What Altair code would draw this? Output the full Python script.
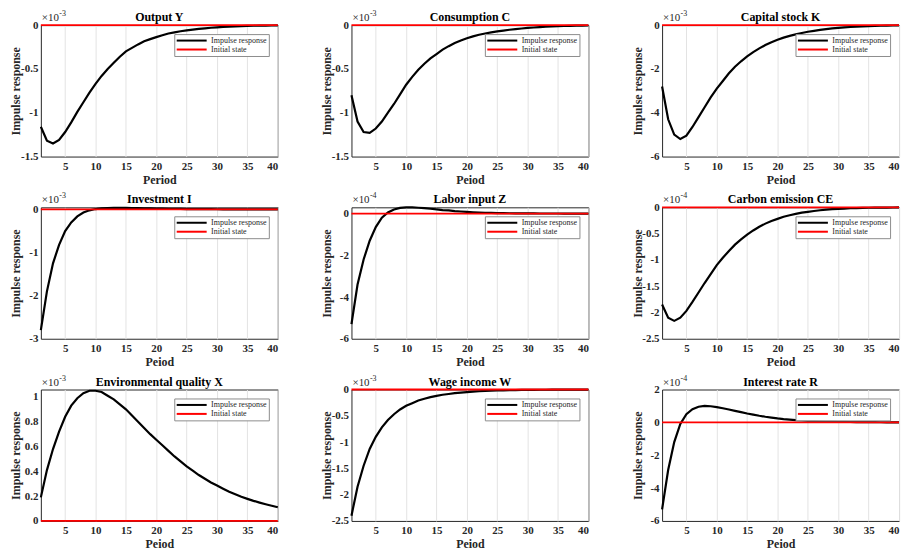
import altair as alt
import pandas as pd

periods = list(range(1, 41))

output_y = [-1.16, -1.32, -1.35, -1.31, -1.22, -1.11, -0.99, -0.88, -0.77, -0.67,
            -0.58, -0.50, -0.43, -0.36, -0.30, -0.26, -0.22, -0.185, -0.16, -0.137,
            -0.115, -0.096, -0.082, -0.07, -0.06, -0.051, -0.043, -0.036, -0.03, -0.025,
            -0.02, -0.017, -0.014, -0.011, -0.009, -0.007, -0.006, -0.005, -0.004, -0.003]
consumption_c = [-0.80, -1.10, -1.22, -1.23, -1.18, -1.10, -1.00, -0.90, -0.79, -0.68,
                 -0.59, -0.51, -0.44, -0.38, -0.33, -0.28, -0.24, -0.205, -0.175, -0.15,
                 -0.128, -0.11, -0.095, -0.083, -0.072, -0.062, -0.053, -0.045, -0.038, -0.032,
                 -0.027, -0.022, -0.018, -0.015, -0.012, -0.01, -0.008, -0.006, -0.005, -0.004]
capital_k = [-2.8, -4.3, -5.0, -5.2, -5.05, -4.65, -4.2, -3.75, -3.3, -2.9,
             -2.55, -2.2, -1.9, -1.65, -1.43, -1.23, -1.06, -0.91, -0.78, -0.67,
             -0.57, -0.49, -0.42, -0.36, -0.3, -0.26, -0.22, -0.18, -0.15, -0.125,
             -0.1, -0.085, -0.07, -0.055, -0.045, -0.035, -0.028, -0.022, -0.017, -0.013]
investment_i = [-2.8, -1.9, -1.25, -0.82, -0.5, -0.3, -0.16, -0.07, -0.02, 0.01,
                0.025, 0.033, 0.037, 0.038, 0.036, 0.033, 0.03, 0.027, 0.024, 0.021,
                0.018, 0.016, 0.014, 0.012, 0.01, 0.009, 0.008, 0.007, 0.006, 0.005,
                0.004, 0.004, 0.003, 0.003, 0.002, 0.002, 0.002, 0.001, 0.001, 0.001]
labor_z = [-5.3, -3.4, -2.2, -1.3, -0.65, -0.2, 0.05, 0.2, 0.27, 0.3,
           0.3, 0.28, 0.26, 0.23, 0.2, 0.17, 0.15, 0.12, 0.1, 0.08,
           0.065, 0.05, 0.04, 0.032, 0.025, 0.02, 0.016, 0.013, 0.01, 0.008,
           0.006, 0.005, 0.004, 0.003, 0.003, 0.002, 0.002, 0.001, 0.001, 0.001]
carbon_ce = [-1.85, -2.1, -2.16, -2.1, -1.97, -1.8, -1.62, -1.44, -1.27, -1.1,
             -0.96, -0.83, -0.71, -0.61, -0.52, -0.44, -0.37, -0.31, -0.26, -0.22,
             -0.18, -0.15, -0.125, -0.1, -0.085, -0.07, -0.055, -0.045, -0.036, -0.029,
             -0.023, -0.018, -0.014, -0.011, -0.008, -0.006, -0.005, -0.004, -0.003, -0.002]
env_x = [0.19, 0.41, 0.58, 0.72, 0.84, 0.93, 0.99, 1.03, 1.05, 1.05,
         1.04, 1.01, 0.98, 0.94, 0.9, 0.85, 0.8, 0.75, 0.7, 0.655,
         0.61, 0.565, 0.52, 0.48, 0.44, 0.405, 0.37, 0.34, 0.31, 0.285,
         0.26, 0.235, 0.215, 0.195, 0.178, 0.162, 0.148, 0.135, 0.122, 0.11]
wage_w = [-2.4, -1.85, -1.45, -1.13, -0.9, -0.72, -0.58, -0.47, -0.38, -0.31,
          -0.26, -0.21, -0.175, -0.145, -0.12, -0.1, -0.085, -0.07, -0.058, -0.048,
          -0.04, -0.033, -0.027, -0.022, -0.018, -0.015, -0.012, -0.01, -0.008, -0.007,
          -0.006, -0.005, -0.004, -0.003, -0.003, -0.002, -0.002, -0.001, -0.001, -0.001]
interest_r = [-5.3, -2.9, -1.2, -0.1, 0.5, 0.8, 0.95, 1.0, 0.98, 0.93,
              0.86, 0.78, 0.7, 0.62, 0.54, 0.47, 0.4, 0.34, 0.29, 0.24,
              0.2, 0.17, 0.14, 0.115, 0.095, 0.078, 0.064, 0.052, 0.042, 0.034,
              0.027, 0.022, 0.018, 0.014, 0.011, 0.009, 0.007, 0.005, 0.004, 0.003]
initial_state = [0.0] * 40

series_names = ["Impulse response", "Initial state"]
x_ticks = [5, 10, 15, 20, 25, 30, 35, 40]

panels_spec = [
    ("Output Y", output_y, "-3", [-1.5, 0], [-1.5, -1, -0.5, 0], "Period"),
    ("Consumption C", consumption_c, "-3", [-1.5, 0], [-1.5, -1, -0.5, 0], "Peiod"),
    ("Capital stock K", capital_k, "-3", [-6, 0], [-6, -4, -2, 0], "Peiod"),
    ("Investment I", investment_i, "-3", [-3, 0.05], [-3, -2, -1, 0], "Peiod"),
    ("Labor input Z", labor_z, "-4", [-6, 0.3], [-6, -4, -2, 0], "Peiod"),
    ("Carbon emission CE", carbon_ce, "-4", [-2.5, 0], [-2.5, -2, -1.5, -1, -0.5, 0], "Peiod"),
    ("Environmental quality X", env_x, "-3", [0, 1.06], [0, 0.2, 0.4, 0.6, 0.8, 1], "Peiod"),
    ("Wage income W", wage_w, "-3", [-2.5, 0], [-2.5, -2, -1.5, -1, -0.5, 0], "Peiod"),
    ("Interest rate R", interest_r, "-4", [-6, 2], [-6, -4, -2, 0, 2], "Peiod"),
]

FONT = "Liberation Serif"
W, H = 238, 132


def panel(title, values, exp, domain, yticks, xtitle):
    df = pd.DataFrame({
        "period": periods + periods,
        "value": values + initial_state,
        "series": [series_names[0]] * 40 + [series_names[1]] * 40,
    })
    x = alt.X("period:Q", scale=alt.Scale(domain=[1, 40], nice=False, zero=False),
              axis=alt.Axis(values=x_ticks, title=xtitle, grid=True))
    y = alt.Y("value:Q", scale=alt.Scale(domain=domain, nice=False, zero=False),
              axis=alt.Axis(values=yticks, title="Impulse response", grid=False,
                            labelExpr="'' + datum.value"))
    color = alt.Color("series:N",
                      scale=alt.Scale(domain=series_names, range=["#000000", "#ff0000"]),
                      legend=alt.Legend(title=None))
    base = alt.Chart(df)
    black = base.transform_filter(alt.datum.series == series_names[0]).mark_line(
        strokeWidth=2.2, clip=False).encode(x=x, y=y, color=color)
    red = base.transform_filter(alt.datum.series == series_names[1]).mark_line(
        strokeWidth=1.8, clip=False).encode(x=x, y=y, color=color)
    ttl = alt.Chart(pd.DataFrame({"t": [title]})).mark_text(
        align="center", baseline="alphabetic", font=FONT, fontSize=12,
        fontWeight="bold", color="#000000"
    ).encode(text="t:N", x=alt.value(W / 2), y=alt.value(-4))
    times = alt.Chart(pd.DataFrame({"t": ["×10"]})).mark_text(
        align="left", baseline="alphabetic", font=FONT, fontSize=11, color="#262626"
    ).encode(text="t:N", x=alt.value(1), y=alt.value(-4))
    sup = alt.Chart(pd.DataFrame({"t": [exp]})).mark_text(
        align="left", baseline="alphabetic", font=FONT, fontSize=8, color="#262626"
    ).encode(text="t:N", x=alt.value(18.5), y=alt.value(-9))
    return alt.layer(black, red, ttl, times, sup).properties(width=W, height=H)


charts = [panel(*p) for p in panels_spec]

chart = alt.concat(*charts, columns=3, spacing={"row": 51, "column": 74},
                   bounds="flush").resolve_scale(
    color="independent").resolve_legend(color="independent").properties(
    padding={"left": 1, "top": 0, "right": 1, "bottom": 0}
).configure_view(
    stroke="#262626", strokeWidth=1
).configure_axis(
    labelFont=FONT, labelFontWeight="bold", labelFontSize=11, labelColor="#262626",
    titleFont=FONT, titleFontWeight="bold", titleFontSize=12, titleColor="#262626",
    domain=False, ticks=False, tickSize=0, labelPadding=3,
    gridColor="#e3e3e3", gridWidth=1
).configure_axisY(
    minExtent=16, maxExtent=16, titlePadding=2
).configure_axisX(
    labelPadding=4, titlePadding=3
).configure_legend(
    orient="top-right", offset=9, padding=2, fillColor="white",
    strokeColor="#8c8c8c", labelFont=FONT, labelFontSize=8, labelColor="#262626",
    symbolType="M-4.3,0H4.3", symbolSize=49, symbolStrokeWidth=2, symbolOffset=11,
    rowPadding=0, labelOffset=15, cornerRadius=0
)

chart.save("out.html", embed_options={"renderer": "svg", "actions": False})
